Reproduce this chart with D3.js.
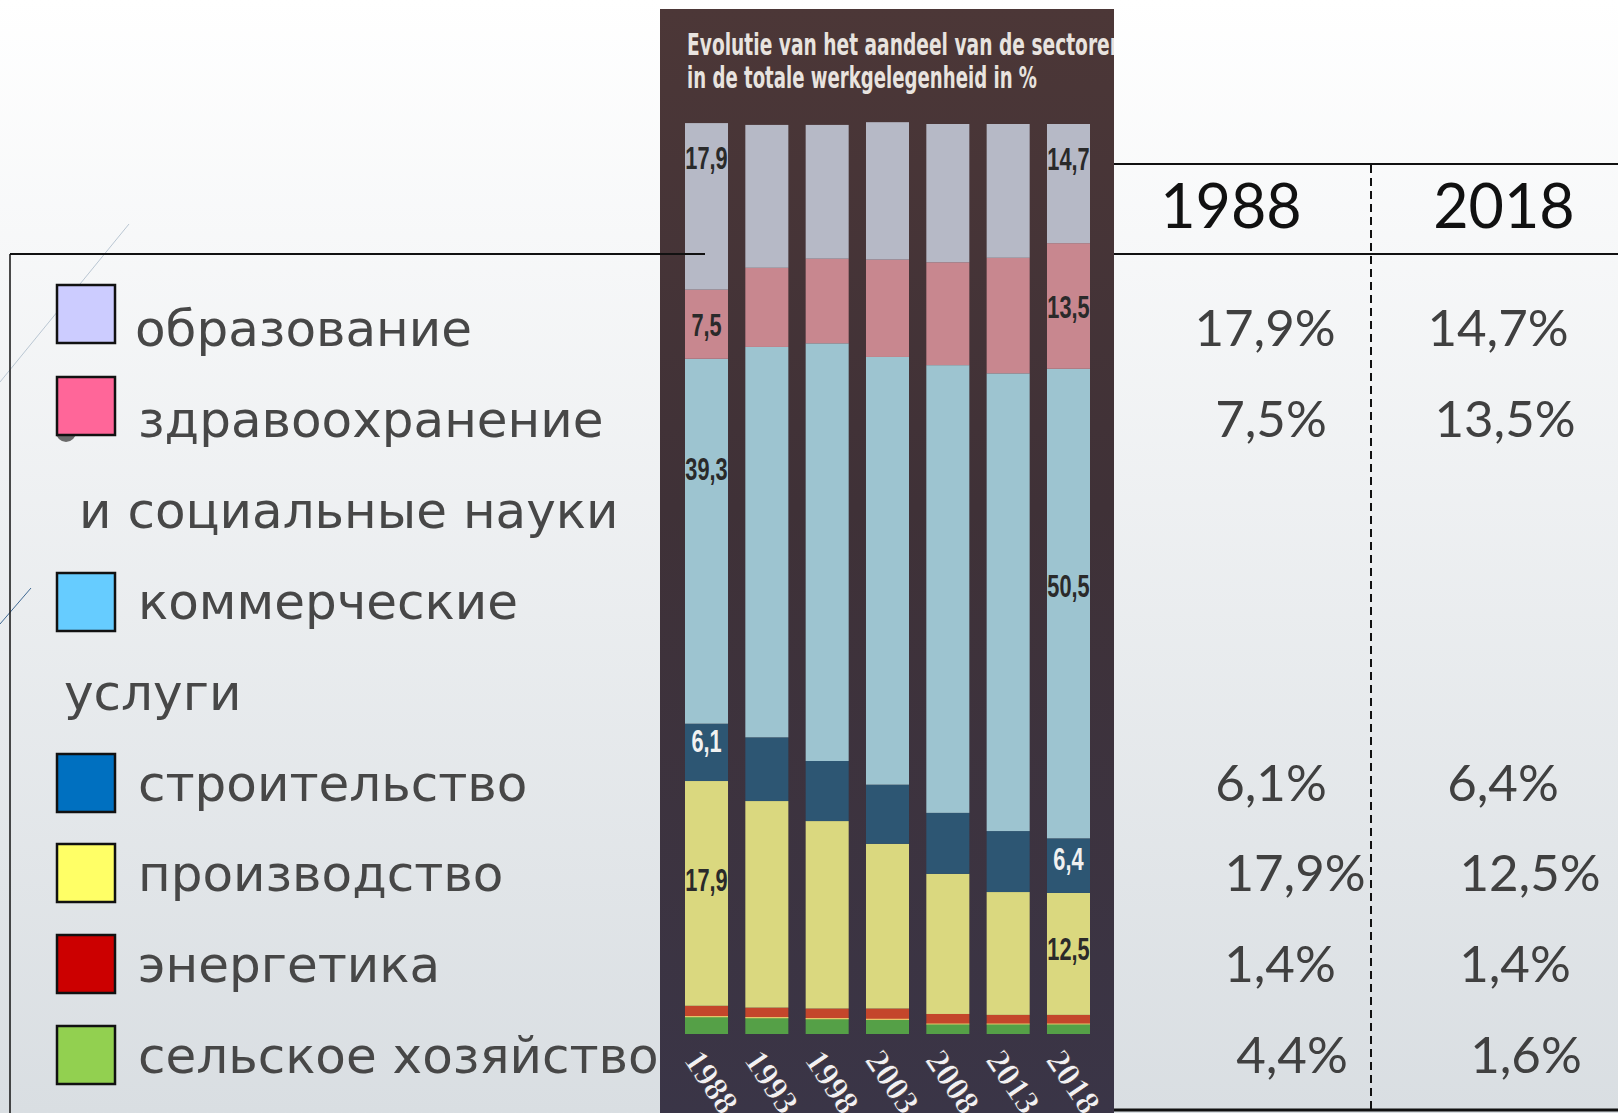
<!DOCTYPE html>
<html>
<head>
<meta charset="utf-8">
<script src="https://cdn.jsdelivr.net/npm/d3@7"></script>
<style>
    body { margin: 0; overflow: hidden; background: #fff; }
    svg { display: block; }
</style>
</head>
<body>
<svg id="gfx"></svg>
<script>
// ---- data ----
const years = ["1988", "1993", "1998", "2003", "2008", "2013", "2018"];
const sectorKeys = ["education", "health", "commercial", "construction", "manufacturing", "energy", "agriculture"];
const sectorNames = ["образование", "здравоохранение и социальные науки", "коммерческие услуги",
    "строительство", "производство", "энергетика", "сельское хозяйство"];

// share of each sector as drawn in the newspaper bars (%), per year
const education     = [18.3, 15.7, 14.7, 15.1, 15.2, 14.7, 13.1];
const health        = [7.6, 8.7, 9.3, 10.7, 11.3, 12.7, 13.8];
const commercial    = [40.1, 42.9, 45.9, 47.0, 49.2, 50.3, 51.6];
const construction  = [6.3, 7.0, 6.6, 6.5, 6.7, 6.7, 6.0];
const manufacturing = [24.7, 22.7, 20.6, 18.1, 15.4, 13.5, 13.4];
const energy        = [1.2, 1.1, 1.1, 1.2, 1.1, 1.0, 1.0];
const agriculture   = [1.9, 1.8, 1.7, 1.6, 1.1, 1.1, 1.1];

// printed values (sector order), used for bar labels and the table
const printed1988 = [17.9, 7.5, 39.3, 6.1, 17.9, 1.4, 4.4];
const printed2018 = [14.7, 13.5, 50.5, 6.4, 12.5, 1.4, 1.6];
const labelledSectors = ["education", "health", "commercial", "construction", "manufacturing"];
const tableSectors = ["education", "health", "construction", "manufacturing", "energy", "agriculture"];
const tableYears = ["1988", "2018"];

// ---- styles / layout ----
const barColors = {
    education: "#b6b9c6", health: "#c8878f", commercial: "#9dc4d0", construction: "#2d5673",
    manufacturing: "#dad87f", energy: "#c4462b", agriculture: "#55a047"
};
const legendColors = {
    education: "#ccccff", health: "#ff6699", commercial: "#66ccff", construction: "#0070c0",
    manufacturing: "#ffff66", energy: "#cc0000", agriculture: "#92d050"
};
const wrapAfter = { health: 1, commercial: 1 };       // break legend text after n words
const lineIndent = [135, 138, 79, 138, 64, 138, 138, 138, 138];
const swatchTop = [285, 377, null, 573, null, 754, 844, 935, 1026];
const tableCenters = {
    "1988": [1265, 1271, 1271, 1295, 1280, 1292],
    "2018": [1498, 1505, 1503, 1530, 1515, 1526]
};
// label nudges (px) away from the segment middle
const labelShift = {
    commercial: { "1988": -73, "2018": -18 },
    construction: { "1988": -12, "2018": -7 },
    manufacturing: { "1988": -14, "2018": -5 }
};

const W = 1618, H = 1113;
const fmt = v => d3.format(".1f")(v).replace(".", ",");
const rowY = i => 346 + i * 90.9;

const svg = d3.select("#gfx").attr("width", W).attr("height", H).attr("viewBox", "0 0 " + W + " " + H);
const defs = svg.append("defs");

function gradient(id, stops) {
    const g = defs.append("linearGradient").attr("id", id)
        .attr("x1", 0).attr("y1", 0).attr("x2", 0).attr("y2", 1);
    stops.forEach(s => g.append("stop").attr("offset", s[0]).attr("stop-color", s[1]));
}
gradient("slideBg", [["0%", "#ffffff"], ["100%", "#d9dee2"]]);
gradient("paperBg", [["0%", "#4c3737"], ["45%", "#3f3137"], ["100%", "#3a3547"]]);

// ---- slide background & decorations ----
svg.append("rect").attr("width", W).attr("height", H).attr("fill", "url(#slideBg)");
svg.append("line").attr("x1", 129).attr("y1", 224).attr("x2", 0).attr("y2", 382)
    .attr("stroke", "#b9c6d2").attr("stroke-width", 1);
svg.append("line").attr("x1", 31).attr("y1", 588).attr("x2", 0).attr("y2", 624)
    .attr("stroke", "#3f6892").attr("stroke-width", 1);

// ---- newspaper chart ----
const panel = { x: 660, y: 9, w: 454, h: H - 9 };
defs.append("clipPath").attr("id", "panelClip").append("rect")
    .attr("x", panel.x).attr("y", panel.y).attr("width", panel.w).attr("height", panel.h);

const paper = svg.append("g").attr("clip-path", "url(#panelClip)");
paper.append("rect").attr("x", panel.x).attr("y", panel.y).attr("width", panel.w).attr("height", panel.h)
    .attr("fill", "url(#paperBg)");

const titleLines = [
    { text: "Evolutie van het aandeel van de sectoren", y: 55, len: 436 },
    { text: "in de totale werkgelegenheid in %", y: 88, len: 350 }
];
paper.selectAll("text.title").data(titleLines).enter().append("text")
    .attr("class", "title")
    .attr("x", 687).attr("y", d => d.y)
    .attr("textLength", d => d.len).attr("lengthAdjust", "spacingAndGlyphs")
    .style("font-family", "'Liberation Sans Narrow', 'DejaVu Sans Condensed', sans-serif")
    .style("font-weight", "bold").style("font-size", "31px")
    .attr("fill", "#e8e3df")
    .text(d => d.text);

const table = years.map((y, i) => ({
    year: y, education: education[i], health: health[i], commercial: commercial[i],
    construction: construction[i], manufacturing: manufacturing[i], energy: energy[i], agriculture: agriculture[i]
}));
const stackKeys = sectorKeys.slice().reverse();
const series = d3.stack().keys(stackKeys)(table);

const x = d3.scaleBand().domain(years).range([685, 1090]).paddingInner(0.287).paddingOuter(0);
const y = d3.scaleLinear().domain([0, 100]).range([1034, 124]);

const layers = paper.selectAll("g.layer").data(series).enter().append("g")
    .attr("class", "layer").attr("fill", d => barColors[d.key]);
layers.selectAll("rect").data(d => d).enter().append("rect")
    .attr("x", d => x(d.data.year))
    .attr("y", d => y(d[1]))
    .attr("width", x.bandwidth())
    .attr("height", d => y(d[0]) - y(d[1]));

// thin pale seam between energy and agriculture
paper.selectAll("line.seam").data(series.find(s => s.key === "agriculture")).enter().append("line")
    .attr("class", "seam")
    .attr("x1", d => x(d.data.year)).attr("x2", d => x(d.data.year) + x.bandwidth())
    .attr("y1", d => y(d[1])).attr("y2", d => y(d[1]))
    .attr("stroke", "#e6c56a").attr("stroke-width", 1.2);

// value labels on the first and last bar
const printed = { "1988": printed1988, "2018": printed2018 };
const barLabels = [];
tableYears.forEach(yr => {
    const yi = years.indexOf(yr);
    labelledSectors.forEach(key => {
        const seg = series.find(s => s.key === key)[yi];
        let cy = (y(seg[0]) + y(seg[1])) / 2;
        if (key === "education") cy = y(seg[1]) + 34;
        if (labelShift[key]) cy += labelShift[key][yr];
        barLabels.push({ year: yr, key: key, cy: cy, text: fmt(printed[yr][sectorKeys.indexOf(key)]) });
    });
});
paper.selectAll("text.barlabel").data(barLabels).enter().append("text")
    .attr("class", "barlabel")
    .attr("transform", d => "translate(" + (x(d.year) + x.bandwidth() / 2) + "," + d.cy + ") scale(0.68,1)")
    .attr("text-anchor", "middle").attr("dy", "0.36em")
    .style("font-family", "'Liberation Sans Narrow', sans-serif")
    .style("font-weight", "bold").style("font-size", "32px")
    .attr("fill", d => d.key === "construction" ? "#f1f1f1" : "#2a2a2a")
    .text(d => d.text);

// rotated year labels
paper.selectAll("text.year").data(years).enter().append("text")
    .attr("class", "year")
    .attr("transform", d => "translate(" + (x(d) - 2) + ",1060) rotate(56)")
    .style("font-family", "'Liberation Serif', serif")
    .style("font-weight", "bold").style("font-size", "34px")
    .attr("fill", "#f2f0f2").attr("stroke", "#2a2430").attr("stroke-width", 0.6)
    .text(d => d);

// ---- table frame ----
const frame = svg.append("g").attr("stroke", "#111");
frame.append("line").attr("x1", 10).attr("x2", 705).attr("y1", 254).attr("y2", 254).attr("stroke-width", 2);
frame.append("line").attr("x1", 10).attr("x2", 10).attr("y1", 254).attr("y2", H).attr("stroke-width", 1.5);
frame.append("line").attr("x1", panel.x + panel.w).attr("x2", W).attr("y1", 164).attr("y2", 164).attr("stroke-width", 2);
frame.append("line").attr("x1", panel.x + panel.w).attr("x2", W).attr("y1", 254).attr("y2", 254).attr("stroke-width", 2);
frame.append("line").attr("x1", panel.x + panel.w).attr("x2", W).attr("y1", 1110).attr("y2", 1110).attr("stroke-width", 3);
frame.append("line").attr("x1", 1371).attr("x2", 1371).attr("y1", 165).attr("y2", H)
    .attr("stroke-width", 2).attr("stroke-dasharray", "8,5");

// ---- legend ----
const legendLines = [];
sectorKeys.forEach((key, i) => {
    const words = sectorNames[i].split(" ");
    const n = wrapAfter[key];
    if (n) {
        legendLines.push({ key: key, text: words.slice(0, n).join(" ") });
        legendLines.push({ key: null, text: words.slice(n).join(" ") });
    } else {
        legendLines.push({ key: key, text: sectorNames[i] });
    }
});
legendLines.forEach((d, i) => { d.row = i; });

// bullet peeking out behind the second swatch
svg.append("circle").attr("cx", 66).attr("cy", 432).attr("r", 10).attr("fill", "#6a6a6a");

const legend = svg.append("g");
legend.selectAll("rect").data(legendLines.filter(d => d.key)).enter().append("rect")
    .attr("x", 57).attr("y", d => swatchTop[d.row])
    .attr("width", 58).attr("height", 58)
    .attr("fill", d => legendColors[d.key])
    .attr("stroke", "#111").attr("stroke-width", 2.5);
legend.selectAll("text").data(legendLines).enter().append("text")
    .attr("x", d => lineIndent[d.row]).attr("y", d => rowY(d.row))
    .style("font-family", "'DejaVu Sans', sans-serif").style("font-size", "50px")
    .attr("fill", "#474747")
    .text(d => d.text);

// ---- comparison table ----
const numbers = svg.append("g").style("font-family", "Lato, 'Open Sans', sans-serif");
numbers.selectAll("text.head").data(tableYears).enter().append("text")
    .attr("class", "head")
    .attr("x", (d, i) => i === 0 ? 1231 : 1504).attr("y", 228)
    .attr("text-anchor", "middle").style("font-size", "61px").attr("fill", "#111")
    .text(d => d);

const cells = [];
tableYears.forEach(yr => {
    tableSectors.forEach((key, j) => {
        const row = legendLines.find(l => l.key === key).row;
        cells.push({ x: tableCenters[yr][j], y: rowY(row), text: fmt(printed[yr][sectorKeys.indexOf(key)]) + "%" });
    });
});
numbers.selectAll("text.cell").data(cells).enter().append("text")
    .attr("class", "cell")
    .attr("x", d => d.x).attr("y", d => d.y)
    .attr("text-anchor", "middle").style("font-size", "51px").attr("fill", "#404040")
    .text(d => d.text);
</script>
</body>
</html>
